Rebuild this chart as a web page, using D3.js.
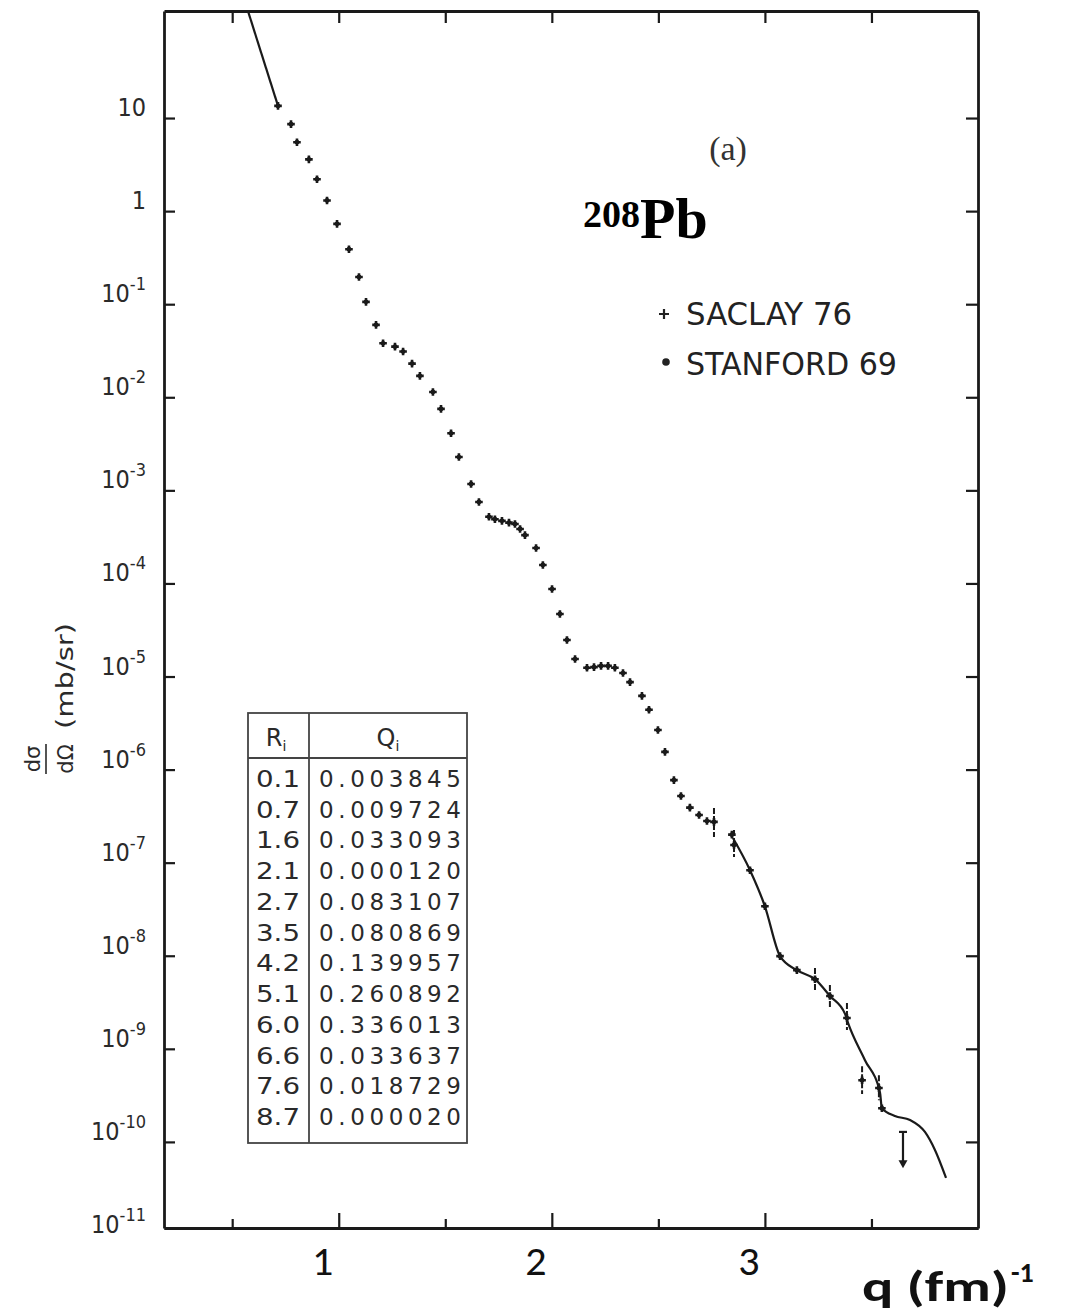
<!DOCTYPE html>
<html><head><meta charset="utf-8">
<script src="https://cdn.jsdelivr.net/npm/d3@7"></script>
<style>body{margin:0;background:#fff;} svg{display:block;}</style>
</head><body>
<svg id="chart" width="1067" height="1316"></svg>
<script>
// ---------- data ----------
const pointQ = [0.715,0.776,0.804,0.860,0.898,0.945,0.992,1.048,1.095,1.128,1.175,1.208,1.264,1.302,1.344,1.381,1.442,1.480,1.527,1.564,1.621,1.658,1.705,1.733,1.766,1.799,1.827,1.851,1.874,1.926,1.958,2.001,2.038,2.071,2.109,2.165,2.198,2.231,2.264,2.296,2.334,2.367,2.423,2.456,2.498,2.531,2.573,2.606,2.648,2.691,2.728,2.845,2.930,3.000,3.071,3.150,3.549];
const pointSigma = [13.5,8.6,5.5,3.6,2.2,1.3,0.73,0.39,0.196,0.106,0.060,0.038,0.035,0.031,0.023,0.017,0.0114,0.0075,0.0041,0.00228,0.00117,7.5e-4,5.2e-4,4.9e-4,4.7e-4,4.5e-4,4.35e-4,3.85e-4,3.3e-4,2.4e-4,1.58e-4,8.7e-5,4.7e-5,2.47e-5,1.54e-5,1.24e-5,1.26e-5,1.30e-5,1.30e-5,1.24e-5,1.09e-5,8.7e-6,6.2e-6,4.4e-6,2.66e-6,1.55e-6,7.7e-7,5.2e-7,3.9e-7,3.25e-7,2.8e-7,2.0e-7,8.3e-8,3.4e-8,9.9e-9,7.0e-9,2.3e-10];

const errQ = [2.761,2.855,3.235,3.305,3.385,3.456,3.535];
const errSigma = [2.74e-7,1.55e-7,5.6e-9,3.7e-9,2.14e-9,4.6e-10,3.8e-10];
const errLow = [1.89e-7,1.15e-7,4.08e-9,2.75e-9,1.59e-9,3.27e-10,2.8e-10];
const errHigh = [3.86e-7,2.24e-7,7.4e-9,4.85e-9,3.1e-9,6.5e-10,5.2e-10];

const headCurveQ = [0.55,0.715];
const headCurveSigma = [211,13.5];
const tailCurveQ = [2.850,2.930,3.000,3.071,3.150,3.235,3.305,3.376,3.390,3.469,3.540,3.549,3.610,3.681,3.751,3.798,3.850];
const tailCurveSigma = [1.84e-7,8.3e-8,3.4e-8,9.9e-9,7.0e-9,5.6e-9,3.7e-9,2.37e-9,1.9e-9,7.6e-10,3.4e-10,2.3e-10,1.9e-10,1.72e-10,1.28e-10,8.2e-11,4.1e-11];

const limitQ = [3.648];
const limitTop = [1.28e-10];
const limitBottom = [5.2e-11];

const xMajorTicks = [1,2,3];
const xMinorTicks = [0.5,1.5,2.5,3.5];
const xTickLabels = ["1","2","3"];
const yTickExponents = [1,0,-1,-2,-3,-4,-5,-6,-7,-8,-9,-10,-11];

const tableR = ["0.1","0.7","1.6","2.1","2.7","3.5","4.2","5.1","6.0","6.6","7.6","8.7"];
const tableQ = ["0.003845","0.009724","0.033093","0.000120","0.083107","0.080869","0.139957","0.260892","0.336013","0.033637","0.018729","0.000020"];
const legendLabels = ["SACLAY 76","STANFORD 69"];

// ---------- layout ----------
const L = 164, R = 978, T = 11, B = 1228;
const ink = "#1a1a1a";
const svg = d3.select("#chart");

const x = d3.scaleLinear().domain([0.18, 4.0]).range([L, R]);
const y = d3.scaleLog().domain([Math.pow(10,-10.925), Math.pow(10,2.15)]).range([B, T]);
const decades = yTickExponents.filter(e => Math.pow(10,e) >= y.domain()[0]).map(e => Math.pow(10,e));

function styleAxis(g){
  g.selectAll("path.domain").attr("stroke", ink).attr("stroke-width", 2.8);
  g.selectAll(".tick line").attr("stroke", ink).attr("stroke-width", 2.2);
  g.selectAll(".tick text").remove();
}
svg.append("g").attr("transform",`translate(${L},0)`)
  .call(d3.axisLeft(y).tickValues(decades).tickSize(-11).tickSizeOuter(0).tickFormat(""))
  .call(styleAxis);
svg.append("g").attr("transform",`translate(${R},0)`)
  .call(d3.axisRight(y).tickValues(decades).tickSize(-12).tickSizeOuter(0).tickFormat(""))
  .call(styleAxis);
svg.append("g").attr("transform",`translate(0,${B})`)
  .call(d3.axisBottom(x).tickValues(xMajorTicks).tickSize(-15).tickSizeOuter(0).tickFormat(""))
  .call(styleAxis);
svg.append("g").attr("transform",`translate(0,${B})`)
  .call(d3.axisBottom(x).tickValues(xMinorTicks).tickSize(-9).tickSizeOuter(0).tickFormat(""))
  .call(styleAxis);
svg.append("g").attr("transform",`translate(0,${T})`)
  .call(d3.axisTop(x).tickValues(xMajorTicks.concat(xMinorTicks)).tickSize(-12).tickSizeOuter(0).tickFormat(""))
  .call(styleAxis);

// y tick labels
const yLab = svg.append("g").attr("font-family","'DejaVu Sans Condensed','Liberation Sans Narrow',sans-serif")
  .attr("fill","#2a2a2a").attr("text-anchor","end");
yTickExponents.forEach(e => {
  const t = yLab.append("text").attr("x", 146).attr("y", y(Math.pow(10,e)) - 2).attr("font-size", 25);
  if (e === 0) t.text("1");
  else if (e === 1) t.text("10");
  else {
    t.append("tspan").text("10");
    t.append("tspan").attr("font-size",18).attr("dy",-12).text("-" + Math.abs(e));
  }
});

// x tick labels
svg.append("g").selectAll("text").data(xMajorTicks).join("text")
  .attr("x", d => x(d) - 16).attr("y", 1275)
  .attr("text-anchor","middle").attr("font-family","Carlito,Lato,'Open Sans',sans-serif")
  .attr("font-size", 42).attr("fill","#111")
  .text((d,i) => xTickLabels[i]);

// x axis title
const xt = svg.append("text").attr("x", 862).attr("y", 1301)
  .attr("font-family","Carlito,Lato,'Open Sans',sans-serif").attr("font-weight","bold").attr("fill","#111");
xt.append("tspan").attr("font-size", 43).attr("textLength", 147).attr("lengthAdjust","spacingAndGlyphs").text("q (fm)");
xt.append("tspan").attr("font-size", 28).attr("dx", 2).attr("dy", -19).text("-1");

// y axis title (rotated)
const yt = svg.append("g").attr("transform","translate(73,700) rotate(-90)")
  .attr("font-family","'DejaVu Sans',sans-serif").attr("fill","#2a2a2a");
yt.append("text").attr("x", 24).attr("y", 0).attr("text-anchor","middle")
  .attr("font-size", 23).attr("textLength", 106).attr("lengthAdjust","spacingAndGlyphs").text("(mb/sr)");
yt.append("text").attr("x", -59).attr("y", 0).attr("text-anchor","middle").attr("font-size", 21).text("dΩ");
yt.append("text").attr("x", -59).attr("y", -33).attr("text-anchor","middle").attr("font-size", 21).text("dσ");
yt.append("line").attr("x1",-74).attr("x2",-44).attr("y1",-27).attr("y2",-27).attr("stroke","#2a2a2a").attr("stroke-width",1.6);

// clip
svg.append("clipPath").attr("id","plotclip").append("rect").attr("x",L).attr("y",T).attr("width",R-L).attr("height",B-T);
const plot = svg.append("g").attr("clip-path","url(#plotclip)");

// curves
const lineGen = d3.line().x(d => x(d[0])).y(d => y(d[1]));
plot.append("path").datum(headCurveQ.map((q,i)=>[q, headCurveSigma[i]]))
  .attr("d", lineGen).attr("fill","none").attr("stroke", ink).attr("stroke-width", 2.2);
plot.append("path").datum(tailCurveQ.map((q,i)=>[q, tailCurveSigma[i]]))
  .attr("d", lineGen.curve(d3.curveMonotoneX)).attr("fill","none").attr("stroke", ink).attr("stroke-width", 2.2);

// error bars
const errData = errQ.map((q,i)=>({q, s: errSigma[i], lo: errLow[i], hi: errHigh[i]}));
plot.append("g").selectAll("line").data(errData).join("line")
  .attr("x1", d => x(d.q)).attr("x2", d => x(d.q))
  .attr("y1", d => y(d.hi)).attr("y2", d => y(d.lo))
  .attr("stroke", ink).attr("stroke-width", 2).attr("stroke-dasharray","6,2");

// markers
const plus = (cx, cy, r) => `M${cx-r},${cy}H${cx+r}M${cx},${cy-r}V${cy+r}`;
const allPts = pointQ.map((q,i)=>[q, pointSigma[i]]).concat(errData.map(d=>[d.q, d.s]));
plot.append("g").selectAll("path").data(allPts).join("path")
  .attr("d", d => plus(x(d[0]), y(d[1]), 3.8))
  .attr("stroke", ink).attr("stroke-width", 2.6).attr("fill","none");
plot.append("g").selectAll("circle").data(allPts).join("circle")
  .attr("cx", d => x(d[0])).attr("cy", d => y(d[1])).attr("r", 2.4).attr("fill", ink);

// upper limit arrow
limitQ.forEach((q,i) => {
  const xx = x(q), y1 = y(limitTop[i]), y2 = y(limitBottom[i]);
  plot.append("line").attr("x1",xx).attr("x2",xx).attr("y1",y1).attr("y2",y2-4).attr("stroke",ink).attr("stroke-width",2.2);
  plot.append("line").attr("x1",xx-4).attr("x2",xx+4).attr("y1",y1).attr("y2",y1).attr("stroke",ink).attr("stroke-width",2.2);
  plot.append("path").attr("d",`M${xx-4.5},${y2-8}L${xx+4.5},${y2-8}L${xx},${y2}Z`).attr("fill",ink);
});

// (a) label
svg.append("text").attr("x", 728).attr("y", 160).attr("text-anchor","middle")
  .attr("font-family","'Liberation Serif','DejaVu Serif',serif").attr("font-size", 34).attr("fill","#333").text("(a)");

// 208Pb
const pb = svg.append("text").attr("x", 583).attr("y", 238)
  .attr("font-family","'Liberation Serif','DejaVu Serif',serif").attr("font-weight","bold").attr("fill","#000");
pb.append("tspan").attr("font-size", 38).attr("dy", -11).text("208");
pb.append("tspan").attr("font-size", 58).attr("dy", 11).text("Pb");

// legend
const lg = svg.append("g").attr("fill","#222");
lg.append("path").attr("d", plus(664, 314, 5)).attr("stroke","#222").attr("stroke-width",2.2);
lg.append("circle").attr("cx", 666).attr("cy", 362).attr("r", 3.8);
legendLabels.forEach((t,i) => {
  lg.append("text").attr("x", 686).attr("y", 325 + i*50)
    .attr("font-family","'DejaVu Sans Condensed','Liberation Sans Narrow',sans-serif")
    .attr("font-size", 32).attr("textLength", i === 0 ? 166 : 211).attr("lengthAdjust","spacingAndGlyphs")
    .text(t);
});

// table
const tb = svg.append("g").attr("fill","#2a2a2a").attr("font-family","'DejaVu Sans',sans-serif");
const tL = 248, tR = 467, tT = 713, tB = 1143, tDiv = 309, tHead = 758;
tb.append("rect").attr("x",tL).attr("y",tT).attr("width",tR-tL).attr("height",tB-tT)
  .attr("fill","none").attr("stroke","#444").attr("stroke-width",1.8);
tb.append("line").attr("x1",tDiv).attr("x2",tDiv).attr("y1",tT).attr("y2",tB).attr("stroke","#444").attr("stroke-width",1.8);
tb.append("line").attr("x1",tL).attr("x2",tR).attr("y1",tHead).attr("y2",tHead).attr("stroke","#444").attr("stroke-width",1.8);
const hR = tb.append("text").attr("x",276).attr("y",746).attr("text-anchor","middle").attr("font-size",24);
hR.append("tspan").text("R"); hR.append("tspan").attr("font-size",14).attr("dy",5).text("i");
const hQ = tb.append("text").attr("x",388).attr("y",746).attr("text-anchor","middle").attr("font-size",24);
hQ.append("tspan").text("Q"); hQ.append("tspan").attr("font-size",14).attr("dy",5).text("i");
const rowY = d3.scaleLinear().domain([0, tableR.length-1]).range([787, 1125]);
tableR.forEach((r,i) => {
  tb.append("text").attr("x",256).attr("y",rowY(i)).attr("font-size",23)
    .attr("textLength",44).attr("lengthAdjust","spacingAndGlyphs").text(r);
  tb.append("text").attr("x",319).attr("y",rowY(i)).attr("font-size",23)
    .attr("textLength",142).attr("lengthAdjust","spacing").text(tableQ[i]);
});
</script>
</body></html>
